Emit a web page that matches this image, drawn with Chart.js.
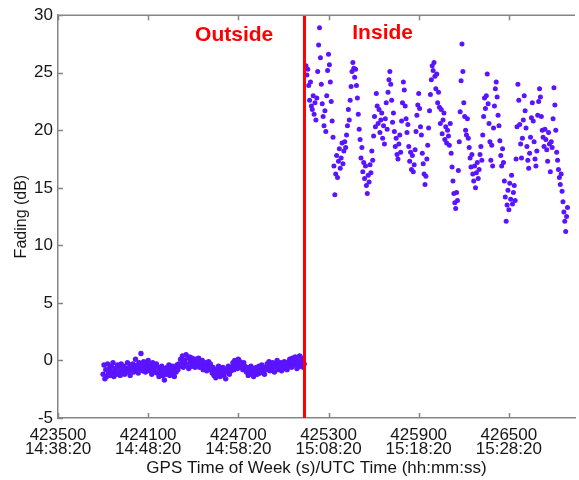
<!DOCTYPE html>
<html>
<head>
<meta charset="utf-8">
<script src="https://cdn.jsdelivr.net/npm/chart.js@4.4.0/dist/chart.umd.min.js"></script>
<style>
html, body { margin: 0; padding: 0; background: #fff; }
canvas { display: block; }
</style>
</head>
<body>
<canvas id="fadingChart" width="579" height="480"></canvas>
<script>
// x ticks: GPS time of week and the matching UTC clock time
const gpsTicks = [423500, 424100, 424700, 425300, 425900, 426500];
const utcTicks = ['14:38:20', '14:48:20', '14:58:20', '15:08:20', '15:18:20', '15:28:20'];

const boundaryTime = 425140; // moment the receiver went inside

// outside the building (GPS s, fading dB)
const outsideTime = [
  423800,423806,423812,423818,423824,423830,423836,423842,423848,423854,
  423860,423866,423872,423878,423884,423890,423896,423902,423908,423914,
  423920,423926,423932,423938,423944,423950,423956,423962,423968,423974,
  423980,423986,423992,423998,424004,424010,424016,424022,424028,424034,
  424040,424046,424052,424058,424064,424070,424076,424082,424088,424094,
  424100,424106,424112,424118,424124,424130,424136,424142,424148,424154,
  424160,424166,424172,424178,424184,424190,424196,424202,424208,424214,
  424220,424226,424232,424238,424244,424250,424256,424262,424268,424274,
  424280,424286,424292,424298,424304,424310,424316,424322,424328,424334,
  424340,424346,424352,424358,424364,424370,424376,424382,424388,424394,
  424400,424406,424412,424418,424424,424430,424436,424442,424448,424454,
  424460,424466,424472,424478,424484,424490,424496,424502,424508,424514,
  424520,424526,424532,424538,424544,424550,424556,424562,424568,424574,
  424580,424586,424592,424598,424604,424610,424616,424622,424628,424634,
  424640,424646,424652,424658,424664,424670,424676,424682,424688,424694,
  424700,424706,424712,424718,424724,424730,424736,424742,424748,424754,
  424760,424766,424772,424778,424784,424790,424796,424802,424808,424814,
  424820,424826,424832,424838,424844,424850,424856,424862,424868,424874,
  424880,424886,424892,424898,424904,424910,424916,424922,424928,424934,
  424940,424946,424952,424958,424964,424970,424976,424982,424988,424994,
  425000,425006,425012,425018,425024,425030,425036,425042,425048,425054,
  425060,425066,425072,425078,425084,425090,425096,425102,425108,425114,
  425120,425126,425132,425138
];
const outsideFading = [
  -1.2,-0.4,-1.6,-0.8,-1.4,-0.3,-1.1,-0.7,
  -1.3,-0.5,-1.0,-0.2,-1.4,-0.7,-0.9,-1.2,-0.4,-1.0,-0.6,-1.3,-0.3,-0.8,-1.1,-0.5,-1.2,-0.7,-0.9,-0.2,-1.0,-0.6,-1.3,-0.4,-0.8,
  -0.3,-1.0,-0.5,0.1,-0.8,-0.4,-1.1,-0.2,-0.7,0.6,-0.5,-0.9,-0.1,-0.6,-1.0,-0.3,-0.7,0.0,-0.9,-0.4,-0.6,-1.2,-0.2,-0.8,-0.5,-1.0,-0.3,
  -1.1,-0.6,-1.4,-0.8,-1.0,-0.5,-1.3,-0.7,-1.7,-0.9,-1.2,-0.6,-1.0,-0.4,-1.3,-0.8,-1.1,-0.5,-0.9,-1.4,-0.7,-1.0,-0.4,-0.8,-0.3,
  -0.5,0.1,-0.3,0.4,-0.6,0.0,-0.2,0.5,-0.4,0.2,-0.7,0.3,-0.1,-0.5,0.2,-0.3,0.0,-0.6,0.1,-0.2,-0.4,0.2,
  -0.6,-0.1,-0.5,0.0,-0.8,-0.3,-0.6,-0.2,-0.9,-0.4,-0.1,-0.7,-0.3,-0.8,
  -1.1,-0.6,-1.3,-0.8,-1.5,-0.9,-1.2,-0.5,-1.0,-1.4,-0.7,-1.1,-0.6,-1.3,-0.9,-1.6,-0.8,-1.0,-0.5,-1.2,-0.7,-0.9,
  -0.6,-0.2,-0.8,0.0,-0.5,-0.3,-0.7,0.1,-0.4,-0.1,-0.6,-0.3,-0.8,-0.2,-0.5,-0.7,
  -1.0,-0.6,-1.3,-0.8,-1.1,-0.5,-1.2,-0.9,-1.4,-0.7,-1.0,-0.6,-1.2,-0.8,-0.5,-1.1,-0.9,-0.4,-1.0,-0.7,-1.2,-0.6,
  -0.8,-0.3,-0.6,-0.1,-0.9,-0.4,-0.7,-0.2,-0.5,-1.0,-0.3,-0.6,0.0,-0.8,-0.4,-0.5,-0.2,-0.9,-0.3,-0.7,-0.1,-0.6,-0.4,-0.8,-0.2,
  -0.5,0.1,-0.3,-0.6,0.2,-0.1,-0.4,0.3,-0.2,-0.7,0.0,-0.3,0.4,-0.5,-0.1,0.2,-0.6,-0.3
];

// inside the building
const insideTime = [
  425150,425156,425162,425168,425174,425180,425186,425192,425198,425204,
  425210,425216,425222,425228,425234,425240,425246,425252,425258,425264,
  425270,425276,425282,425288,425294,425300,425306,425312,425318,425324,
  425330,425336,425342,425348,425354,425360,425366,425372,425378,425384,
  425390,425396,425402,425408,425414,425420,425426,425432,425438,425444,
  425450,425456,425462,425468,425474,425480,425486,425492,425498,425504,
  425510,425516,425522,425528,425534,425540,425546,425552,425558,425564,
  425570,425576,425582,425588,425594,425600,425606,425612,425618,425624,
  425630,425636,425642,425648,425654,425660,425666,425672,425678,425684,
  425690,425696,425702,425708,425714,425720,425726,425732,425738,425744,
  425750,425756,425762,425768,425774,425780,425786,425792,425798,425804,
  425810,425816,425822,425828,425834,425840,425846,425852,425858,425864,
  425870,425876,425882,425888,425894,425900,425906,425912,425918,425924,
  425930,425936,425942,425948,425954,425960,425966,425972,425978,425984,
  425990,425996,426002,426008,426014,426020,426026,426032,426038,426044,
  426050,426056,426062,426068,426074,426080,426086,426092,426098,426104,
  426110,426116,426122,426128,426134,426140,426146,426152,426158,426164,
  426170,426176,426182,426188,426194,426200,426206,426212,426218,426224,
  426230,426236,426242,426248,426254,426260,426266,426272,426278,426284,
  426290,426296,426302,426308,426314,426320,426326,426332,426338,426344,
  426350,426356,426362,426368,426374,426380,426386,426392,426398,426404,
  426410,426416,426422,426428,426434,426440,426446,426452,426458,426464,
  426470,426476,426482,426488,426494,426500,426506,426512,426518,426524,
  426530,426536,426542,426548,426554,426560,426566,426572,426578,426584,
  426590,426596,426602,426608,426614,426620,426626,426632,426638,426644,
  426650,426656,426662,426668,426674,426680,426686,426692,426698,426704,
  426710,426716,426722,426728,426734,426740,426746,426752,426758,426764,
  426770,426776,426782,426788,426794,426800,426806,426812,426818,426824,
  426830,426836,426842,426848,426854,426860,426866,426872,426878,426884,
  426890
];
const insideFading = [
  25.6,24.8,25.3,23.9,22.6,24.2,22.1,21.8,23.0,21.4,22.4,20.9,
  22.8,25.1,27.4,28.9,26.3,
  24.0,22.3,21.2,20.4,21.7,19.9,23.0,25.2,26.6,25.7,24.2,22.5,20.8,19.4,
  16.9,14.4,16.2,17.8,15.9,17.3,18.4,16.7,17.6,18.9,17.1,18.2,19.0,18.5,19.6,
  20.4,21.8,20.9,22.6,23.8,25.1,25.9,25.4,
  24.6,25.3,23.9,22.8,21.4,20.1,19.2,
  17.6,18.5,16.4,17.2,15.8,16.9,15.2,14.5,16.1,15.5,17.0,16.3,18.2,17.4,
  19.5,21.2,20.3,23.2,22.1,20.6,21.8,19.8,20.9,21.5,19.3,20.4,18.8,21.0,22.4,20.1,
  23.3,24.4,25.1,24.0,22.6,
  20.7,21.5,19.9,18.6,19.3,17.9,17.5,18.8,19.6,18.1,
  20.8,22.4,24.2,23.5,22.1,21.0,19.8,20.5,
  18.6,17.3,18.1,16.6,17.8,16.4,17.0,18.3,
  19.9,21.3,22.2,23.2,21.9,20.3,19.6,
  18.0,17.1,16.2,15.3,16.0,17.5,18.7,
  20.2,21.7,23.1,24.4,25.6,25.2,
  25.9,24.7,23.6,24.9,22.4,23.3,
  22.0,20.6,21.8,19.7,20.9,21.5,19.2,20.3,18.9,20.0,19.5,18.7,20.6,
  18.0,16.8,15.6,14.5,13.7,13.2,14.6,13.9,
  16.5,19.0,21.6,24.3,27.5,25.1,
  22.4,21.2,20.0,19.6,21.0,19.3,
  18.5,17.6,16.8,17.9,16.2,15.6,16.9,15.0,16.3,17.2,15.8,16.6,17.9,18.6,17.4,
  19.6,21.2,22.8,21.9,23.0,24.9,22.3,
  20.6,19.0,17.4,18.7,16.9,20.2,
  22.1,23.6,24.2,22.9,21.3,20.4,19.1,
  17.8,16.9,18.4,17.2,
  15.6,14.2,12.1,13.5,14.8,13.1,15.4,14.0,16.1,13.6,14.6,15.2,13.9,
  17.5,20.3,24.0,22.6,
  20.5,18.8,17.6,19.3,20.9,
  23.0,21.7,20.2,18.6,17.4,16.7,18.0,19.4,21.1,
  22.4,20.8,19.0,17.5,16.9,18.2,21.3,
  22.5,23.6,22.9,21.2,20.0,
  19.4,18.6,20.1,19.2,18.3,17.3,19.8,18.8,16.4,19.0,18.5,
  21.0,23.7,22.2,20.0,
  18.1,17.4,16.6,15.9,15.3,16.2,
  14.7,13.8,12.9,12.1,11.2,12.5,13.3
];

const fontFamily = '"Liberation Sans", Arial, sans-serif';
const textColor = '#161616';
const axisColor = '#858585';
const dotColor = '#5a14ff';

function pairs(times, values) {
  const out = [];
  const n = Math.min(times.length, values.length);
  for (let i = 0; i < n; i++) out.push({ x: times[i], y: values[i] });
  return out;
}

// frame on top, inward tick marks, and the two red region labels
const framePlugin = {
  id: 'framePlugin',
  afterDraw(chart) {
    const ctx = chart.ctx;
    const a = chart.chartArea;
    const xs = chart.scales.x;
    const ys = chart.scales.y;
    ctx.save();
    ctx.strokeStyle = axisColor;
    ctx.lineWidth = 1.5;
    ctx.beginPath();
    ctx.moveTo(a.left, a.top);
    ctx.lineTo(a.right, a.top);
    xs.ticks.forEach(function(t) {
      const px = Math.round(xs.getPixelForValue(t.value)) + 0.5;
      ctx.moveTo(px, a.bottom); ctx.lineTo(px, a.bottom - 5);
      ctx.moveTo(px, a.top); ctx.lineTo(px, a.top + 5);
    });
    ys.ticks.forEach(function(t) {
      const py = Math.round(ys.getPixelForValue(t.value)) + 0.5;
      ctx.moveTo(a.left, py); ctx.lineTo(a.left + 5, py);
    });
    ctx.stroke();

    ctx.fillStyle = '#ff0000';
    ctx.font = 'bold 21px ' + fontFamily;
    ctx.textAlign = 'center';
    ctx.textBaseline = 'middle';
    ctx.fillText('Outside', xs.getPixelForValue(424672), ys.getPixelForValue(28.3));
    ctx.fillText('Inside', xs.getPixelForValue(425660), ys.getPixelForValue(28.4));
    ctx.restore();
  }
};

const ctx = document.getElementById('fadingChart').getContext('2d');
const fadingChart = new Chart(ctx, {
  type: 'scatter',
  data: {
    datasets: [
      {
        type: 'line',
        label: 'boundary',
        data: [{ x: boundaryTime, y: -5 }, { x: boundaryTime, y: 30 }],
        borderColor: '#ff0000',
        borderWidth: 3,
        pointRadius: 0,
        fill: false
      },
      {
        label: 'outside',
        data: pairs(outsideTime, outsideFading),
        backgroundColor: dotColor,
        pointRadius: 2.7,
        pointBorderWidth: 0
      },
      {
        label: 'inside',
        data: pairs(insideTime, insideFading),
        backgroundColor: dotColor,
        pointRadius: 2.5,
        pointBorderWidth: 0
      }
    ]
  },
  options: {
    responsive: false,
    animation: false,
    events: [],
    layout: { padding: { top: 13, right: 0, bottom: 0, left: 0 } },
    plugins: {
      legend: { display: false },
      tooltip: { enabled: false }
    },
    scales: {
      x: {
        type: 'linear',
        min: 423500,
        max: 426940,
        afterBuildTicks: function(s) { s.ticks = gpsTicks.map(v => ({ value: v })); },
        afterFit: function(s) { s.height = 62; },
        grid: { display: false, drawTicks: false },
        border: { display: true, color: axisColor, width: 1.5 },
        ticks: {
          autoSkip: false,
          maxRotation: 0,
          padding: 10,
          color: textColor,
          font: { family: fontFamily, size: 17, lineHeight: 0.85 },
          callback: function(v) {
            const i = gpsTicks.indexOf(v);
            return i < 0 ? '' : [String(v), utcTicks[i]];
          }
        },
        title: {
          display: true,
          text: 'GPS Time of Week (s)/UTC Time (hh:mm:ss)',
          color: textColor,
          font: { family: fontFamily, size: 17 },
          padding: { top: 0, bottom: 1 }
        }
      },
      y: {
        min: -5,
        max: 30,
        afterFit: function(s) { s.width = 58; },
        grid: { display: false, drawTicks: false },
        border: { display: true, color: axisColor, width: 1.5 },
        ticks: {
          stepSize: 5,
          padding: 5,
          color: textColor,
          font: { family: fontFamily, size: 17 }
        },
        title: {
          display: true,
          text: 'Fading (dB)',
          color: textColor,
          font: { family: fontFamily, size: 16 },
          padding: { top: 12, bottom: 0 }
        }
      }
    }
  },
  plugins: [framePlugin]
});
</script>
</body>
</html>
